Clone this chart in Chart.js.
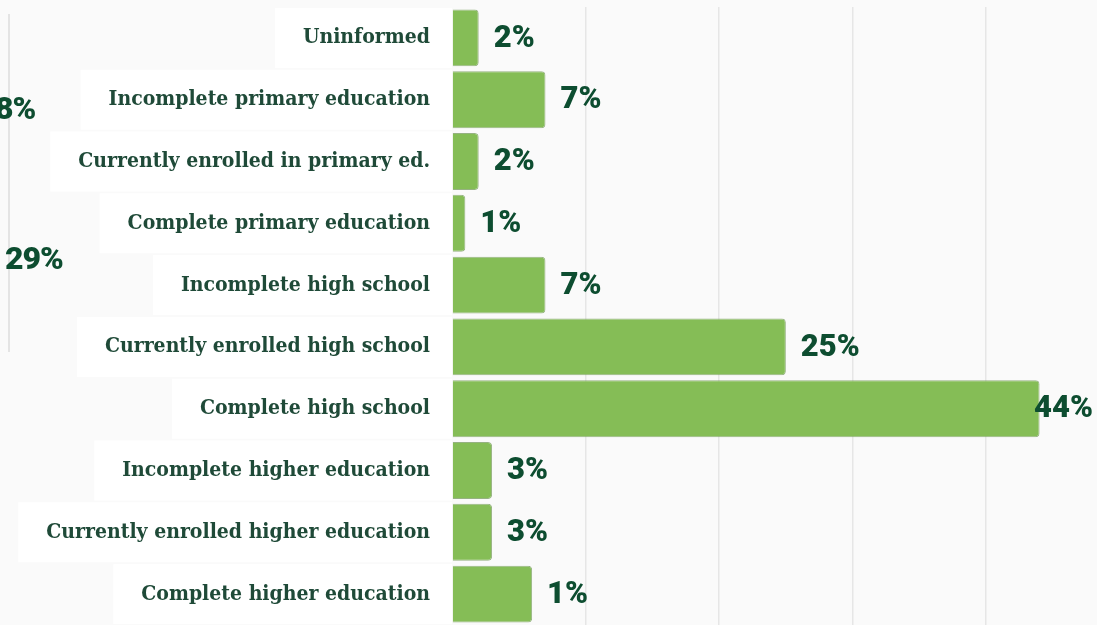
<!DOCTYPE html>
<html>
<head>
<meta charset="utf-8">
<script src="https://cdn.jsdelivr.net/npm/chart.js@4"></script>
<style>
  html, body { margin: 0; padding: 0; background: #fafafa; }
  #wrap { position: relative; width: 1097px; height: 625px; overflow: hidden; }
  .stray { position: absolute; font-family: Roboto, sans-serif; font-weight: 900; font-size: 32px; color: #0d4d30; letter-spacing: -1px; }
  #edge { position: absolute; left: 8px; top: 14px; width: 2px; height: 338px; background: #e4e4e4; }
</style>
</head>
<body>
<div id="wrap">
  <canvas id="eduChart" width="1097" height="625"></canvas>
  <div id="edge"></div>
  <div class="stray" style="left:-5px; top:89px;">8%</div>
  <div class="stray" style="left:5px; top:239px;">29%</div>
</div>
<script>
// categories, bar lengths (%) and the printed value labels
var categories = [
    'Uninformed',
    'Incomplete primary education',
    'Currently enrolled in primary ed.',
    'Complete primary education',
    'Incomplete high school',
    'Currently enrolled high school',
    'Complete high school',
    'Incomplete higher education',
    'Currently enrolled higher education',
    'Complete higher education'
];
var values = [2, 7, 2, 1, 7, 25, 44, 3, 3, 6];
var valueLabels = ['2%', '7%', '2%', '1%', '7%', '25%', '44%', '3%', '3%', '1%'];
var xTicks = [0, 10, 20, 30, 40];

var labelFamily = '"DejaVu Serif Condensed", "DejaVu Serif", serif';
var labelFont = '600 21px ' + labelFamily;
var valueFont = '900 31px Roboto, sans-serif';

// white boxes behind the category labels (drawn before the axes)
var labelBoxPlugin = {
    id: 'labelBoxes',
    beforeDraw: function(chart) {
        var ctx = chart.ctx;
        var yScale = chart.scales.y;
        var right = chart.chartArea.left;
        ctx.save();
        ctx.font = labelFont;
        ctx.fillStyle = '#ffffff';
        categories.forEach(function(c, i) {
            var y = yScale.getPixelForTick(i);
            var w = ctx.measureText(c).width;
            var left = right - 22 - w - 28;
            ctx.fillRect(left, y - 30, right - left, 60);
        });
        ctx.restore();
    }
};

// draws the % text at the end of each bar
var valueLabelPlugin = {
    id: 'valueLabels',
    afterDatasetsDraw: function(chart) {
        var ctx = chart.ctx;
        var meta = chart.getDatasetMeta(0);
        ctx.save();
        ctx.font = valueFont;
        ctx.fillStyle = '#0d4d30';
        ctx.textBaseline = 'middle';
        meta.data.forEach(function(bar, i) {
            var txt = valueLabels[i];
            var w = ctx.measureText(txt).width;
            var x = bar.x + 15;
            if (x + w > chart.width - 4) x = chart.width - 4 - w;
            ctx.fillText(txt, x, bar.y + 1);
        });
        ctx.restore();
    }
};

var ctx = document.getElementById('eduChart').getContext('2d');
var eduChart = new Chart(ctx, {
    type: 'bar',
    data: {
        labels: categories,
        datasets: [{
            data: values,
            backgroundColor: '#85bd56',
            borderColor: 'rgba(125, 160, 100, 0.8)',
            borderWidth: 1,
            borderRadius: 4,
            borderSkipped: 'start',
            barPercentage: 0.92,
            categoryPercentage: 1
        }]
    },
    options: {
        indexAxis: 'y',
        responsive: false,
        animation: false,
        layout: { padding: { top: 7, bottom: -2, left: 0, right: 0 } },
        plugins: {
            legend: { display: false },
            tooltip: { enabled: false }
        },
        scales: {
            x: {
                min: 0,
                max: 48.3,
                afterBuildTicks: function(scale) {
                    scale.ticks = xTicks.map(function(v) { return { value: v }; });
                },
                afterFit: function(scale) {
                    scale.height = 0;
                    scale.paddingLeft = 0; scale.paddingRight = 0;
                    scale.paddingTop = 0; scale.paddingBottom = 0;
                },
                ticks: { display: false },
                border: { display: false },
                grid: {
                    drawTicks: false,
                    lineWidth: 1.5,
                    color: function(c) { return c.tick && c.tick.value === 0 ? 'rgba(0,0,0,0)' : '#e6e6e6'; }
                }
            },
            y: {
                afterFit: function(scale) {
                    scale.width = 452;
                    scale.paddingTop = 0; scale.paddingBottom = 0;
                },
                border: { display: false },
                grid: { display: false, drawTicks: false },
                ticks: {
                    padding: 22,
                    color: '#1f4a38',
                    font: { family: labelFamily, size: 21, weight: '600' }
                }
            }
        }
    },
    plugins: [labelBoxPlugin, valueLabelPlugin]
});
</script>
</body>
</html>
